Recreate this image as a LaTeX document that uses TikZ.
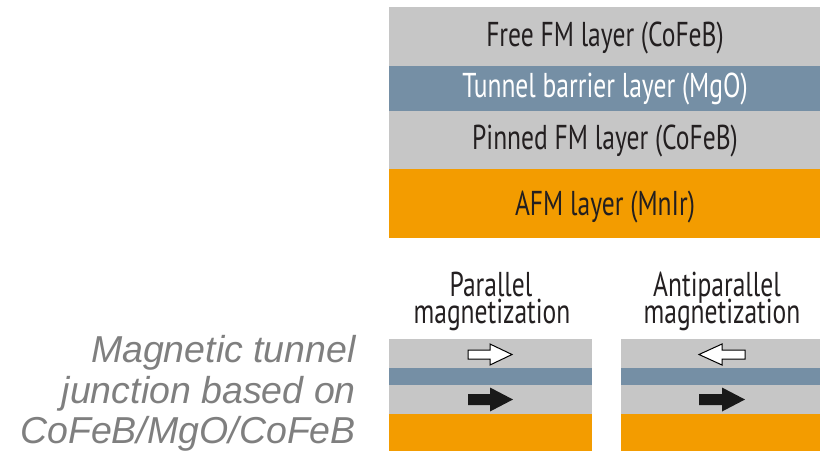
\documentclass[tikz,border=0pt]{standalone}
\usepackage{fontspec}
\setmainfont{Liberation Sans}
\newfontfamily\condfont[FakeStretch=0.74]{PT Sans}
\definecolor{layergray}{HTML}{C6C6C6}
\definecolor{barrier}{HTML}{758FA5}
\definecolor{afm}{HTML}{F39C00}
\definecolor{labeltext}{HTML}{231F20}
\definecolor{captiongray}{HTML}{7F7F7F}
\tikzset{
  lbl/.style={font=\condfont\fontsize{34.5}{25}\selectfont, text=labeltext, anchor=base, inner sep=0pt},
  wlbl/.style={lbl, text=white},
  captext/.style={font=\itshape\fontsize{37.5}{37.5}\selectfont, text=captiongray, anchor=base east, inner sep=0pt},
  hollowarrow/.style={draw=black, line width=1pt, fill=white, line join=miter},
  solidarrow/.style={fill=black!90, draw=none}
}
\begin{document}
\begin{tikzpicture}[x=1pt,y=-1pt]
\useasboundingbox (0,0) rectangle (820,451);
% top stack
\fill[layergray] (389,7) rectangle (820,66);
\fill[barrier] (389,66) rectangle (820,111);
\fill[layergray] (389,111) rectangle (820,169);
\fill[afm] (389,169) rectangle (820,238);
\node[lbl] (free) at (605,46) {Free FM layer (CoFeB)};
\node[wlbl] (tunnel) at (605,97) {Tunnel barrier layer (MgO)};
\node[lbl] (pinned) at (605,149) {Pinned FM layer (CoFeB)};
\node[lbl] (afmlbl) at (605,215) {AFM layer (MnIr)};
% bottom left stack
\fill[layergray] (389,339) rectangle (592,368);
\fill[barrier] (389,368) rectangle (592,385);
\fill[layergray] (389,385) rectangle (592,414);
\fill[afm] (389,414) rectangle (592,451);
% bottom right stack
\fill[layergray] (621,339) rectangle (820,368);
\fill[barrier] (621,368) rectangle (820,385);
\fill[layergray] (621,385) rectangle (820,414);
\fill[afm] (621,414) rectangle (820,451);
% titles
\node[lbl] (par1) at (491,296) {Parallel};
\node[lbl] (par2) at (492,323) {magnetization};
\node[lbl] (anti1) at (717,296) {Antiparallel};
\node[lbl] (anti2) at (722,323) {magnetization};
% arrows left
\draw[hollowarrow] (468,350) -- (490,350) -- (490,344) -- (512,354.5) -- (490,365) -- (490,359) -- (468,359) -- cycle;
\fill[solidarrow] (468,394) -- (490,394) -- (490,387.5) -- (513,399.5) -- (490,411.5) -- (490,405) -- (468,405) -- cycle;
% arrows right
\draw[hollowarrow] (745,350) -- (722,350) -- (722,344) -- (699,354.5) -- (722,365) -- (722,359) -- (745,359) -- cycle;
\fill[solidarrow] (699,394) -- (722,394) -- (722,387.5) -- (745,399.5) -- (722,411.5) -- (722,405) -- (699,405) -- cycle;
% caption
\node[captext] (c1) at (356,362) {Magnetic tunnel};
\node[captext] (c2) at (356,403) {junction based on};
\node[captext] (c3) at (356,443) {CoFeB/MgO/CoFeB};
\end{tikzpicture}
\end{document}
